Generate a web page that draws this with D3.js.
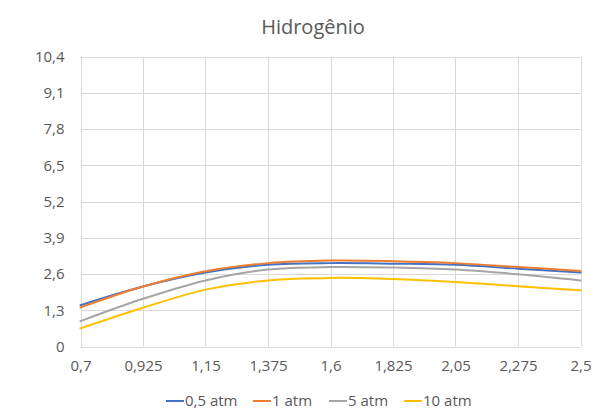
<!DOCTYPE html>
<html>
<head>
<meta charset="utf-8">
<script src="https://cdn.jsdelivr.net/npm/d3@7"></script>
<style>
  html, body { margin: 0; padding: 0; background: #fff; }
  svg { display: block; font-family: "Open Sans", sans-serif; }
</style>
</head>
<body>
<svg id="chart" width="614" height="416"></svg>
<script>
const title = "Hidrogênio";
const xValues = [0.7, 0.925, 1.15, 1.375, 1.6, 1.825, 2.05, 2.275, 2.5];
const yTicks = [0, 1.3, 2.6, 3.9, 5.2, 6.5, 7.8, 9.1, 10.4];
const seriesNames = ["0,5 atm", "1 atm", "5 atm", "10 atm"];
const seriesColors = ["#4472C4", "#ED7D31", "#A5A5A5", "#FFC000"];
const s05 = [1.48, 2.15, 2.65, 2.93, 2.99, 2.97, 2.93, 2.79, 2.65];
const s1  = [1.40, 2.15, 2.70, 2.99, 3.08, 3.06, 2.99, 2.85, 2.71];
const s5  = [0.91, 1.71, 2.37, 2.76, 2.85, 2.83, 2.76, 2.59, 2.37];
const s10 = [0.65, 1.39, 2.04, 2.37, 2.46, 2.42, 2.31, 2.16, 2.02];
const seriesValues = [s05, s1, s5, s10];

const fmt = v => String(v).replace(".", ",");
const svg = d3.select("#chart");
const pLeft = 80.5, pRight = 580.5, pTop = 56.5, pBottom = 346.5;
const x = d3.scaleLinear().domain([0.7, 2.5]).range([pLeft, pRight]);
const y = d3.scaleLinear().domain([0, 10.4]).range([pBottom, pTop]);
const textColor = "#595959", gridColor = "#d9d9d9";

svg.append("text").attr("x", 313).attr("y", 34).attr("text-anchor", "middle")
  .attr("font-size", 20).attr("fill", textColor).text(title);

// horizontal grid
svg.append("g").selectAll("line").data(yTicks).join("line")
  .attr("x1", pLeft).attr("x2", pRight)
  .attr("y1", d => Math.round(y(d)) + 0.5).attr("y2", d => Math.round(y(d)) + 0.5)
  .attr("stroke", gridColor).attr("stroke-width", 1);
// vertical grid
svg.append("g").selectAll("line").data(xValues).join("line")
  .attr("y1", pTop).attr("y2", pBottom)
  .attr("x1", d => Math.round(x(d)) + 0.5).attr("x2", d => Math.round(x(d)) + 0.5)
  .attr("stroke", gridColor).attr("stroke-width", 1);

// y axis labels
const yAxis = d3.axisLeft(y).tickValues(yTicks).tickFormat(fmt).tickSize(0).tickPadding(16);
const gy = svg.append("g").attr("transform", `translate(${pLeft},0)`).call(yAxis);
gy.select(".domain").remove();
gy.selectAll("text").attr("font-size", 15).attr("fill", textColor).attr("font-family", "Open Sans");

// x axis labels
const xAxis = d3.axisBottom(x).tickValues(xValues).tickFormat(fmt).tickSize(0).tickPadding(14);
const gx = svg.append("g").attr("transform", `translate(0,${pBottom})`).call(xAxis);
gx.select(".domain").remove();
gx.selectAll("text").attr("font-size", 15).attr("fill", textColor).attr("font-family", "Open Sans");

// lines
const line = d3.line().x(d => x(d[0])).y(d => y(d[1])).curve(d3.curveCatmullRom.alpha(0.5));
seriesValues.forEach((vals, i) => {
  svg.append("path").datum(xValues.map((xv, j) => [xv, vals[j]]))
    .attr("d", line).attr("fill", "none")
    .attr("stroke", seriesColors[i]).attr("stroke-width", 2)
    .attr("stroke-linecap", "round");
});

// legend
const legendY = 401;
const legendX = [166, 253, 329, 404];
seriesNames.forEach((name, i) => {
  const g = svg.append("g").attr("transform", `translate(${legendX[i]},${legendY})`);
  g.append("line").attr("x1", 0).attr("x2", 18).attr("y1", 0).attr("y2", 0)
    .attr("stroke", seriesColors[i]).attr("stroke-width", 2);
  g.append("text").attr("x", 19).attr("y", 0).attr("dy", "0.35em")
    .attr("font-size", 15).attr("fill", textColor).text(name);
});
</script>
</body>
</html>
